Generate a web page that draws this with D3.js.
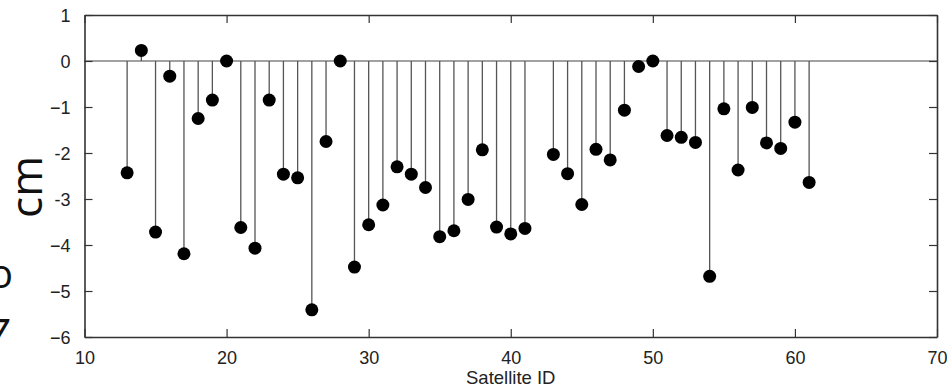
<!DOCTYPE html>
<html>
<head>
<meta charset="utf-8">
<script src="https://cdn.jsdelivr.net/npm/d3@7"></script>
<style>
  html, body { margin: 0; padding: 0; background: #fff; }
  svg { display: block; }
</style>
</head>
<body>
<svg id="chart" width="947" height="387"></svg>
<script>
const satelliteIds = [13,14,15,16,17,18,19,20,21,22,23,24,25,26,27,28,29,30,31,32,33,34,35,36,37,38,39,40,41,
                      43,44,45,46,47,48,49,50,51,52,53,54,55,56,57,58,59,60,61];
const biasCm = [-2.43,0.23,-3.72,-0.33,-4.19,-1.25,-0.85,0,-3.62,-4.07,-0.85,-2.46,-2.54,-5.41,-1.75,0,-4.48,-3.56,-3.13,-2.30,-2.46,-2.75,-3.82,-3.69,-3.01,-1.93,-3.61,-3.76,-3.64,
                -2.03,-2.45,-3.12,-1.92,-2.15,-1.07,-0.12,0,-1.62,-1.66,-1.77,-4.68,-1.04,-2.37,-1.01,-1.78,-1.90,-1.33,-2.64];
const xTicks = [10,20,30,40,50,60,70];
const yTicks = [-6,-5,-4,-3,-2,-1,0,1];
const yTickLabels = ["\u22126","\u22125","\u22124","-3","-2","\u22121","0","1"];
const xLabel = "Satellite ID";
const sideLabel = "cm";

const svg = d3.select("#chart");
const x = d3.scaleLinear().domain([10,70]).range([84.5,937]);
const y = d3.scaleLinear().domain([-6,1]).range([337,15]);
const axisColor = "#333";
const fontFam = "'Liberation Sans', Arial, Helvetica, sans-serif";

// side fragments (clipped text at left edge)
svg.append("text").attr("x",13).attr("y",288).attr("text-anchor","end")
  .attr("font-family","'Open Sans', sans-serif").attr("font-size",40).attr("fill","#111").text("o");
svg.append("text").attr("x",9).attr("y",350).attr("text-anchor","end")
  .attr("font-family","'Open Sans', sans-serif").attr("font-size",44).attr("font-style","italic").attr("fill","#111").text("7");

// "cm" rotated
svg.append("text")
  .attr("transform","translate(42,187) rotate(-90)")
  .attr("text-anchor","middle")
  .attr("font-family","'Open Sans', sans-serif").attr("font-size",44).attr("fill","#111")
  .text(sideLabel);

// zero line
svg.append("line").attr("x1",x(10)).attr("x2",x(70)).attr("y1",y(0)).attr("y2",y(0))
  .attr("stroke","#444").attr("stroke-width",1.2);

// stems
const data = satelliteIds.map((s,i)=>({s, v: biasCm[i]}));
svg.append("g").selectAll("line").data(data).join("line")
  .attr("x1",d=>x(d.s)).attr("x2",d=>x(d.s)).attr("y1",y(0)).attr("y2",d=>y(d.v))
  .attr("stroke","#555").attr("stroke-width",1.3);

// dots
svg.append("g").selectAll("circle").data(data).join("circle")
  .attr("cx",d=>x(d.s)).attr("cy",d=>y(d.v)).attr("r",6.5).attr("fill","#000");

// axes (inward ticks) using d3 axes
const tickLen = 8;
const gB = svg.append("g").attr("transform",`translate(0,${y(-6)})`)
  .call(d3.axisBottom(x).tickValues(xTicks).tickSizeInner(-tickLen).tickSizeOuter(0).tickPadding(14));
const gT = svg.append("g").attr("transform",`translate(0,${y(1)})`)
  .call(d3.axisTop(x).tickValues(xTicks).tickSizeInner(-tickLen).tickSizeOuter(0).tickFormat(""));
const gL = svg.append("g").attr("transform",`translate(${x(10)},0)`)
  .call(d3.axisLeft(y).tickValues(yTicks).tickSizeInner(-tickLen).tickSizeOuter(0).tickPadding(14)
    .tickFormat((d,i)=>yTickLabels[i]));
const gR = svg.append("g").attr("transform",`translate(${x(70)},0)`)
  .call(d3.axisRight(y).tickValues(yTicks).tickSizeInner(-tickLen).tickSizeOuter(0).tickFormat(""));

[gB,gT,gL,gR].forEach(g=>{
  g.select(".domain").attr("stroke",axisColor).attr("stroke-width",1.6);
  g.selectAll(".tick line").attr("stroke",axisColor).attr("stroke-width",1.2);
  g.selectAll("text").attr("font-family",fontFam).attr("font-size",18).attr("fill","#222");
});
gL.selectAll("text").attr("dy","0.36em");

// x label
svg.append("text").attr("x",x(40)).attr("y",384).attr("text-anchor","middle")
  .attr("font-family",fontFam).attr("font-size",18.5).attr("fill","#222").text(xLabel);
</script>
</body>
</html>
